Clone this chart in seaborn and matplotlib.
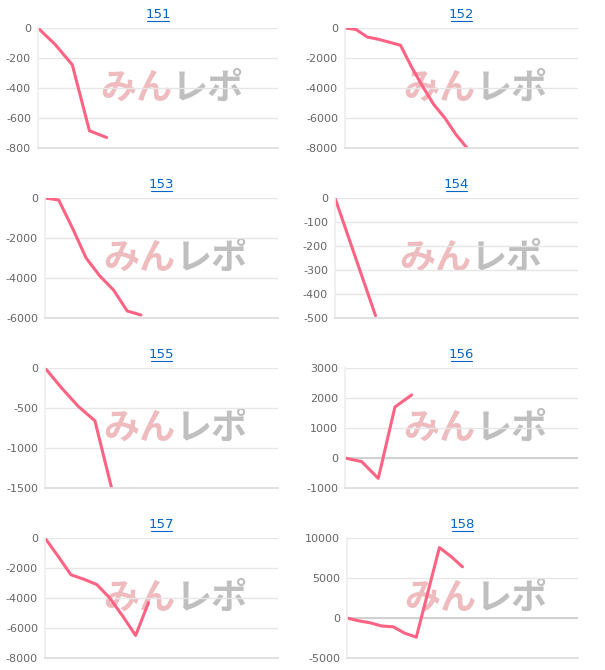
import matplotlib
matplotlib.use("Agg")
import matplotlib.pyplot as plt
import seaborn as sns
import pandas as pd

sns.set_theme(style="white")
plt.rcParams['font.family'] = ['DejaVu Sans', 'Noto Sans CJK JP']
plt.rcParams['axes.unicode_minus'] = False

titles = ["151", "152", "153", "154", "155", "156", "157", "158"]
v151 = [0, -110, -245, -685, -730]
v152 = [0, -100, -600, -750, -950, -1150, -2600, -3900, -5100, -6000, -7100, -8000]
v153 = [0, -100, -1500, -3000, -3900, -4600, -5650, -5850]
v154 = [0, -245, -490]
v155 = [0, -250, -480, -660, -1500]
v156 = [0, -120, -680, 1700, 2100]
v157 = [0, -1200, -2450, -2750, -3100, -4000, -5200, -6500, -4300]
v158 = [0, -350, -600, -1000, -1100, -1900, -2400, 3200, 8800, 7700, 6400]
series = [v151, v152, v153, v154, v155, v156, v157, v158]
slots = [14, 21, 17, 12, 14, 14, 18, 20]
ylims = [(-800, 0), (-8000, 0), (-6000, 0), (-500, 0), (-1500, 0), (-1000, 3000), (-8000, 0), (-5000, 10000)]
ysteps = [200, 2000, 2000, 100, 500, 1000, 2000, 5000]

W, H = 605, 670
fig = plt.figure(figsize=(W / 100, H / 100), dpi=100)
lefts = [[38, 345], [45, 335], [45, 345], [45, 347]]
for i in range(8):
    r, c = divmod(i, 2)
    left = lefts[r][c]
    right = 278 if c == 0 else 578
    top = 28 + 170 * r
    ax = fig.add_axes([left / W, 1 - (top + 120) / H, (right - left) / W, 120 / H])
    df = pd.DataFrame({"x": range(len(series[i])), "y": series[i]})
    sns.lineplot(data=df, x="x", y="y", ax=ax, color="#ff6384", linewidth=2.2)
    lo, hi = ylims[i]
    ax.set_ylim(lo, hi)
    ax.set_xlim(0, slots[i])
    ax.set_yticks(range(lo, hi + 1, ysteps[i]))
    ax.set_xticks([])
    ax.set_xlabel("")
    ax.set_ylabel("")
    ax.grid(axis="y", color="#e6e6e6", linewidth=1)
    for s in ["top", "right"]:
        ax.spines[s].set_visible(False)
    ax.spines["bottom"].set_color("#dddddd")
    ax.spines["left"].set_color("#eeeeee")
    ax.tick_params(axis="y", labelsize=8, colors="#666666", length=3, pad=2, color="#dddddd")
    if lo < 0 < hi:
        ax.axhline(0, color="#cccccc", linewidth=1.2, zorder=1)
    ax.text(0.5, 1.06, titles[i], transform=ax.transAxes, ha="center", va="bottom",
            fontsize=9.5, color="#0066cc", fontfamily=["DejaVu Sans"])
    ax.plot([0.455, 0.545], [1.055, 1.055], transform=ax.transAxes, color="#0066cc",
            linewidth=0.8, clip_on=False)
    cx = 0.56
    ax.text(cx, 0.5, "みん", transform=ax.transAxes, ha="right", va="center",
            fontsize=26, fontweight="bold", style="italic", color="#e8a0a5", alpha=0.7,
            fontfamily=["Noto Sans CJK JP"], zorder=0)
    ax.text(cx, 0.5, "レポ", transform=ax.transAxes, ha="left", va="center",
            fontsize=26, fontweight="bold", style="italic", color="#b0b0b0", alpha=0.8,
            fontfamily=["Noto Sans CJK JP"], zorder=0)

fig.savefig("out.png", dpi=100)
